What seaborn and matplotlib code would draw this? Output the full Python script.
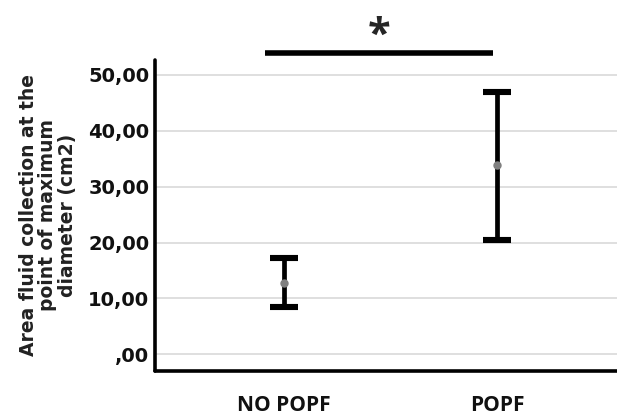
import matplotlib
matplotlib.use("Agg")
import matplotlib.pyplot as plt
import seaborn as sns
import pandas as pd
import numpy as np
from matplotlib.ticker import FuncFormatter

groups = ["NO POPF", "POPF"]
means = [12.8, 33.8]
ci_lower = [8.5, 20.5]
ci_upper = [17.3, 47.0]
yticks = [0, 10, 20, 30, 40, 50]
ylabel = "Area fluid collection at the\npoint of maximum\ndiameter (cm2)"
sig_label = "*"

df = pd.DataFrame({"group": groups, "mean": means, "lo": ci_lower, "hi": ci_upper})

sns.set_theme(style="white")
plt.rcParams["font.family"] = ["DejaVu Sans"]

fig = plt.figure(figsize=(6.17, 4.16), dpi=100)
ax = fig.add_axes([0.2512, 0.108, 0.7488, 0.748])

for yt in yticks:
    ax.axhline(yt, color="#dcdcdc", lw=1.3, zorder=0)

xpos = np.arange(len(groups))
ax.errorbar(xpos, df["mean"],
            yerr=[df["mean"] - df["lo"], df["hi"] - df["mean"]],
            fmt="none", ecolor="black", elinewidth=3.4, capsize=10, capthick=4.4, zorder=2)
sns.pointplot(data=df, x="group", y="mean", errorbar=None, linestyle="none",
              color="#808080", markersize=4, ax=ax, zorder=3)

ax.set_xlim(-0.606, 1.563)
ax.set_ylim(-3.0, 52.7)
ax.set_yticks(yticks)
ax.yaxis.set_major_formatter(FuncFormatter(lambda v, p: ("%.2f" % v).replace(".", ",").lstrip("0") if v == 0 else ("%.2f" % v).replace(".", ",")))
ax.tick_params(axis="both", length=0)
for lbl in ax.get_yticklabels():
    lbl.set_fontsize(14)
    lbl.set_fontweight("bold")
    lbl.set_color("#111111")
ax.set_xticks(xpos)
ax.set_xticklabels(groups, fontsize=15, fontweight="bold", family="Open Sans", color="#111111")
ax.tick_params(axis="x", pad=17)
ax.tick_params(axis="y", pad=4)
ax.set_xlabel("")
ax.set_ylabel(ylabel, fontsize=13.5, fontweight="bold", color="#222222", linespacing=1.05, labelpad=8)

for s in ["top", "right"]:
    ax.spines[s].set_visible(False)
for s in ["left", "bottom"]:
    ax.spines[s].set_color("black")
    ax.spines[s].set_linewidth(2.6)
    ax.spines[s].set_capstyle("round")

# significance bar
ax.plot([xpos[0] - 0.09, xpos[1] - 0.02], [54.0, 54.0], color="black", lw=4, clip_on=False, solid_capstyle="butt")
ax.text((xpos[0] + xpos[1]) / 2 - 0.055, 56.9, sig_label, ha="center", va="center", fontsize=30,
        fontweight="bold", family="Open Sans", clip_on=False)

fig.savefig("out.png", dpi=100)
